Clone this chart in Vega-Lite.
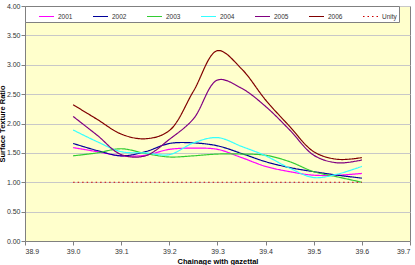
{
  "$schema": "https://vega.github.io/schema/vega-lite/v6.json",
  "width": 385,
  "height": 235,
  "autosize": "none",
  "padding": {"left": 25, "top": 6, "right": 5, "bottom": 24},
  "background": "white",
  "config": {
    "font": "Liberation Sans",
    "view": {"fill": "#FFFFCC", "stroke": "#808080", "strokeWidth": 1},
    "axis": {
      "labelFont": "Liberation Sans",
      "labelFontSize": 7,
      "labelColor": "#333333",
      "titleFont": "Liberation Sans",
      "titleFontSize": 7.5,
      "titleFontWeight": "bold",
      "titleColor": "#000000",
      "domainColor": "#808080",
      "tickColor": "#808080",
      "tickSize": 4,
      "labelPadding": 2
    },
    "legend": {
      "orient": "none",
      "legendX": 0,
      "legendY": 0,
      "direction": "horizontal",
      "columns": 7,
      "fillColor": "white",
      "strokeColor": "#808080",
      "padding": 2,
      "symbolType": "stroke",
      "symbolSize": 225,
      "symbolStrokeWidth": 1.2,
      "symbolOffset": 11,
      "labelFont": "Liberation Sans",
      "labelFontSize": 6.5,
      "labelColor": "#333333",
      "labelOffset": 3,
      "columnPadding": 8,
      "gridAlign": "each"
    }
  },
  "data": {
    "values": [
      {"series": "2001", "x": 39.0, "v": 1.59}, {"series": "2001", "x": 39.05, "v": 1.52}, {"series": "2001", "x": 39.1, "v": 1.45},
      {"series": "2001", "x": 39.15, "v": 1.46}, {"series": "2001", "x": 39.2, "v": 1.56}, {"series": "2001", "x": 39.25, "v": 1.58},
      {"series": "2001", "x": 39.3, "v": 1.56}, {"series": "2001", "x": 39.35, "v": 1.42}, {"series": "2001", "x": 39.4, "v": 1.27},
      {"series": "2001", "x": 39.45, "v": 1.18}, {"series": "2001", "x": 39.5, "v": 1.12}, {"series": "2001", "x": 39.55, "v": 1.12},
      {"series": "2001", "x": 39.6, "v": 1.15},

      {"series": "2002", "x": 39.0, "v": 1.66}, {"series": "2002", "x": 39.05, "v": 1.54}, {"series": "2002", "x": 39.1, "v": 1.45},
      {"series": "2002", "x": 39.15, "v": 1.52}, {"series": "2002", "x": 39.2, "v": 1.66}, {"series": "2002", "x": 39.25, "v": 1.67},
      {"series": "2002", "x": 39.3, "v": 1.62}, {"series": "2002", "x": 39.35, "v": 1.49}, {"series": "2002", "x": 39.4, "v": 1.35},
      {"series": "2002", "x": 39.45, "v": 1.25}, {"series": "2002", "x": 39.5, "v": 1.18}, {"series": "2002", "x": 39.55, "v": 1.12},
      {"series": "2002", "x": 39.6, "v": 1.07},

      {"series": "2003", "x": 39.0, "v": 1.45}, {"series": "2003", "x": 39.05, "v": 1.5}, {"series": "2003", "x": 39.1, "v": 1.57},
      {"series": "2003", "x": 39.15, "v": 1.49}, {"series": "2003", "x": 39.2, "v": 1.43}, {"series": "2003", "x": 39.25, "v": 1.45},
      {"series": "2003", "x": 39.3, "v": 1.48}, {"series": "2003", "x": 39.35, "v": 1.48}, {"series": "2003", "x": 39.4, "v": 1.46},
      {"series": "2003", "x": 39.45, "v": 1.35}, {"series": "2003", "x": 39.5, "v": 1.18}, {"series": "2003", "x": 39.55, "v": 1.09},
      {"series": "2003", "x": 39.6, "v": 1.0},

      {"series": "2004", "x": 39.0, "v": 1.89}, {"series": "2004", "x": 39.05, "v": 1.69}, {"series": "2004", "x": 39.1, "v": 1.52},
      {"series": "2004", "x": 39.15, "v": 1.5}, {"series": "2004", "x": 39.2, "v": 1.47}, {"series": "2004", "x": 39.25, "v": 1.67},
      {"series": "2004", "x": 39.3, "v": 1.76}, {"series": "2004", "x": 39.35, "v": 1.61}, {"series": "2004", "x": 39.4, "v": 1.45},
      {"series": "2004", "x": 39.45, "v": 1.24}, {"series": "2004", "x": 39.5, "v": 1.08}, {"series": "2004", "x": 39.55, "v": 1.14},
      {"series": "2004", "x": 39.6, "v": 1.27},

      {"series": "2005", "x": 39.0, "v": 2.12}, {"series": "2005", "x": 39.05, "v": 1.8}, {"series": "2005", "x": 39.1, "v": 1.47},
      {"series": "2005", "x": 39.15, "v": 1.45}, {"series": "2005", "x": 39.2, "v": 1.73}, {"series": "2005", "x": 39.25, "v": 2.08},
      {"series": "2005", "x": 39.3, "v": 2.74}, {"series": "2005", "x": 39.35, "v": 2.6}, {"series": "2005", "x": 39.4, "v": 2.29},
      {"series": "2005", "x": 39.45, "v": 1.89}, {"series": "2005", "x": 39.5, "v": 1.46}, {"series": "2005", "x": 39.55, "v": 1.33},
      {"series": "2005", "x": 39.6, "v": 1.38},

      {"series": "2006", "x": 39.0, "v": 2.32}, {"series": "2006", "x": 39.05, "v": 2.07}, {"series": "2006", "x": 39.1, "v": 1.82},
      {"series": "2006", "x": 39.15, "v": 1.74}, {"series": "2006", "x": 39.2, "v": 1.88}, {"series": "2006", "x": 39.25, "v": 2.55},
      {"series": "2006", "x": 39.3, "v": 3.24}, {"series": "2006", "x": 39.35, "v": 2.93}, {"series": "2006", "x": 39.4, "v": 2.4},
      {"series": "2006", "x": 39.45, "v": 1.95}, {"series": "2006", "x": 39.5, "v": 1.52}, {"series": "2006", "x": 39.55, "v": 1.39},
      {"series": "2006", "x": 39.6, "v": 1.42},

      {"series": "Unity", "x": 39.0, "v": 1.0}, {"series": "Unity", "x": 39.6, "v": 1.0}
    ]
  },
  "mark": {"type": "line", "interpolate": "catmull-rom", "strokeWidth": 1.2, "clip": true},
  "encoding": {
    "x": {
      "field": "x",
      "type": "quantitative",
      "title": "Chainage with gazettal",
      "scale": {"domain": [38.9, 39.7], "nice": false, "zero": false},
      "axis": {"values": [38.9, 39.0, 39.1, 39.2, 39.3, 39.4, 39.5, 39.6, 39.7], "format": ".1f", "grid": false, "titlePadding": 3}
    },
    "y": {
      "field": "v",
      "type": "quantitative",
      "title": "Surface Texture Ratio",
      "scale": {"domain": [0, 4], "nice": false},
      "axis": {"values": [0, 0.5, 1, 1.5, 2, 2.5, 3, 3.5, 4], "format": ".2f", "grid": true, "gridColor": "#C8C8C8", "gridWidth": 1, "labelPadding": 1, "titlePadding": 0}
    },
    "color": {
      "field": "series",
      "type": "nominal",
      "title": null,
      "scale": {
        "domain": ["2001", "2002", "2003", "2004", "2005", "2006", "Unity"],
        "range": ["#FF00FF", "#000099", "#33CC33", "#33FFFF", "#800080", "#800000", "#CC0000"]
      }
    },
    "strokeDash": {
      "field": "series",
      "type": "nominal",
      "title": null,
      "scale": {
        "domain": ["2001", "2002", "2003", "2004", "2005", "2006", "Unity"],
        "range": [[1, 0], [1, 0], [1, 0], [1, 0], [1, 0], [1, 0], [1.5, 3]]
      }
    }
  }
}
